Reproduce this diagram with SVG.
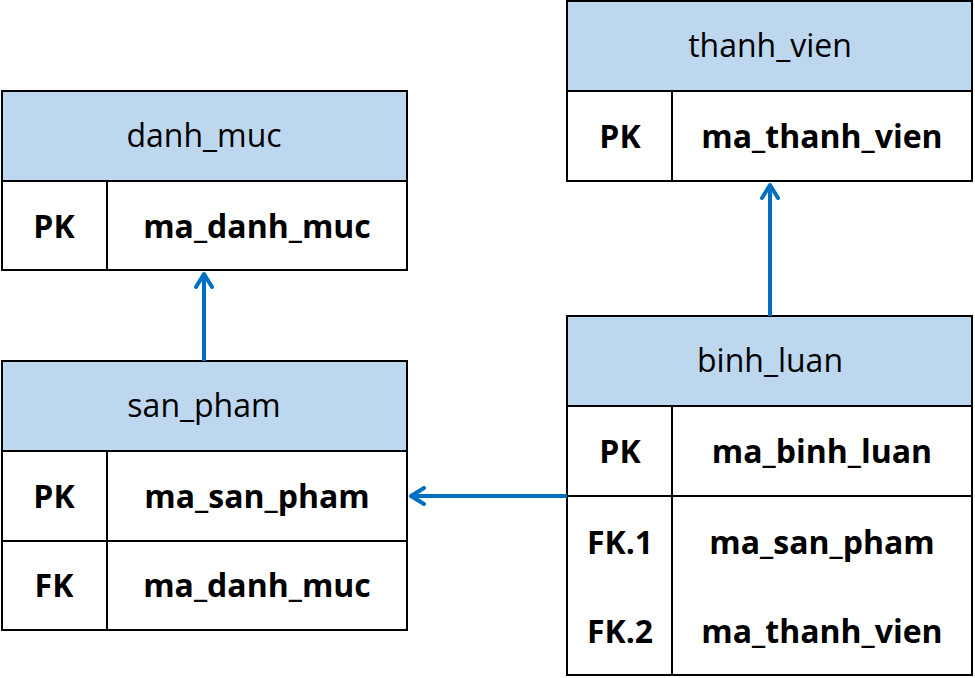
<svg xmlns="http://www.w3.org/2000/svg" width="975" height="678" viewBox="0 0 975 678">
<defs>
<style>
.hdr{fill:#BDD7EE;stroke:#000;stroke-width:2}
.row{fill:#fff;stroke:#000;stroke-width:2}
.ln{stroke:#000;stroke-width:2;fill:none}
.t{font-family:"Open Sans","Liberation Sans",sans-serif;font-size:32px;fill:#000;text-anchor:middle}
.b{font-family:"Open Sans","Liberation Sans",sans-serif;font-size:32px;font-weight:bold;fill:#000;text-anchor:middle}
.c{stroke:#0070C0;stroke-width:4;fill:none}
</style>
<marker id="arr" viewBox="0 0 20 20" refX="16" refY="10" markerWidth="20" markerHeight="20" markerUnits="userSpaceOnUse" orient="auto">
<path d="M3,2 L16,10 L3,18" fill="none" stroke="#0070C0" stroke-width="4" stroke-linecap="round" stroke-linejoin="round"/>
</marker>
</defs>
<rect width="975" height="678" fill="#fff"/>
<g id="danh_muc">
<rect class="hdr" x="2" y="91" width="405" height="90"/>
<rect class="row" x="2" y="181" width="405" height="89"/>
<line class="ln" x1="107" y1="181" x2="107" y2="270"/>
<text class="t" x="204" y="147">danh_muc</text>
<text class="b" x="54" y="238">PK</text>
<text class="b" x="257" y="238">ma_danh_muc</text>
</g>
<g id="san_pham">
<rect class="hdr" x="2" y="361" width="405" height="90"/>
<rect class="row" x="2" y="451" width="405" height="90"/>
<rect class="row" x="2" y="541" width="405" height="89"/>
<line class="ln" x1="107" y1="451" x2="107" y2="630"/>
<text class="t" x="204" y="417">san_pham</text>
<text class="b" x="54" y="508">PK</text>
<text class="b" x="257" y="508">ma_san_pham</text>
<text class="b" x="54" y="597">FK</text>
<text class="b" x="257" y="597">ma_danh_muc</text>
</g>
<g id="thanh_vien">
<rect class="hdr" x="567" y="1" width="405" height="90"/>
<rect class="row" x="567" y="91" width="405" height="90"/>
<line class="ln" x1="672" y1="91" x2="672" y2="181"/>
<text class="t" x="770" y="57">thanh_vien</text>
<text class="b" x="620" y="148">PK</text>
<text class="b" x="822" y="148">ma_thanh_vien</text>
</g>
<g id="binh_luan">
<rect class="hdr" x="567" y="316" width="405" height="90"/>
<rect class="row" x="567" y="406" width="405" height="90"/>
<rect class="row" x="567" y="496" width="405" height="179"/>
<line class="ln" x1="672" y1="406" x2="672" y2="675"/>
<text class="t" x="770" y="372">binh_luan</text>
<text class="b" x="620" y="463">PK</text>
<text class="b" x="822" y="463">ma_binh_luan</text>
<text class="b" x="620" y="554">FK.1</text>
<text class="b" x="822" y="554">ma_san_pham</text>
<text class="b" x="620" y="643">FK.2</text>
<text class="b" x="822" y="643">ma_thanh_vien</text>
</g>
<g id="connectors">
<line class="c" x1="204" y1="361" x2="204" y2="274" marker-end="url(#arr)"/>
<line class="c" x1="770" y1="316" x2="770" y2="185" marker-end="url(#arr)"/>
<line class="c" x1="567" y1="496" x2="411" y2="496" marker-end="url(#arr)"/>
</g>
</svg>
